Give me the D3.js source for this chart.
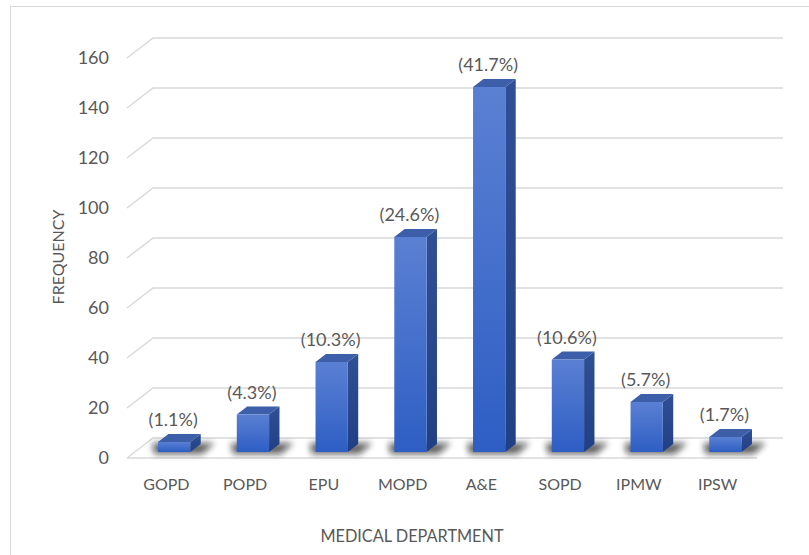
<!DOCTYPE html>
<html>
<head>
<meta charset="utf-8">
<script src="https://cdn.jsdelivr.net/npm/d3@7/dist/d3.min.js"></script>
<style>
  html, body { margin: 0; padding: 0; background: #fff; }
  svg { display: block; }
  text { font-family: Lato, "Open Sans", sans-serif; fill: #595959; }
</style>
</head>
<body>
<svg id="chart" width="809" height="555"></svg>
<script>
const categories = ["GOPD", "POPD", "EPU", "MOPD", "A&E", "SOPD", "IPMW", "IPSW"];
const frequencies = [4, 15, 36, 86, 146, 37, 20, 6];
const percentLabels = ["(1.1%)", "(4.3%)", "(10.3%)", "(24.6%)", "(41.7%)", "(10.6%)", "(5.7%)", "(1.7%)"];
const yTicks = [0, 20, 40, 60, 80, 100, 120, 140, 160];
const xTitle = "MEDICAL DEPARTMENT";
const yTitle = "FREQUENCY";

const svg = d3.select("#chart");

// 3D geometry: front plane and depth offset
const depthDx = 26, depthDy = -20;
const x = d3.scaleBand().domain(categories).range([127, 757]);
const y = d3.scaleLinear().domain([0, 160]).range([458, 58]);

// defs
const defs = svg.append("defs");
const gFront = defs.append("linearGradient").attr("id", "front").attr("x1", 0).attr("y1", 0).attr("x2", 0).attr("y2", 1);
gFront.append("stop").attr("offset", "0%").attr("stop-color", "#5a80d3");
gFront.append("stop").attr("offset", "100%").attr("stop-color", "#2e5ec4");
const gSide = defs.append("linearGradient").attr("id", "side").attr("x1", 0).attr("y1", 0).attr("x2", 0).attr("y2", 1);
gSide.append("stop").attr("offset", "0%").attr("stop-color", "#2f4f96");
gSide.append("stop").attr("offset", "100%").attr("stop-color", "#213f85");
const blur = defs.append("filter").attr("id", "blur").attr("x", "-50%").attr("y", "-100%").attr("width", "200%").attr("height", "300%");
blur.append("feGaussianBlur").attr("stdDeviation", 3);

// outer border
svg.append("rect").attr("x", 10.5).attr("y", 6.5).attr("width", 820).attr("height", 560)
  .attr("fill", "none").attr("stroke", "#d9d9d9").attr("stroke-width", 1);

// gridlines on the back wall with diagonal to front
const x0 = x.range()[0], x1 = x.range()[1];
const grid = svg.append("g");
yTicks.forEach(t => {
  const yf = y(t);
  grid.append("path")
    .attr("d", `M${x0},${yf} L${x0 + depthDx},${yf + depthDy} L${x1 + depthDx},${yf + depthDy}`)
    .attr("fill", "none").attr("stroke", "#d9d9d9").attr("stroke-width", 1.5);
});
// floor front edge
grid.append("line").attr("x1", x0).attr("x2", x1).attr("y1", y(0)).attr("y2", y(0))
  .attr("stroke", "#d9d9d9").attr("stroke-width", 1.5);

// tick labels
svg.append("g").selectAll("text").data(yTicks).join("text")
  .attr("x", 109).attr("y", d => y(d)).attr("dy", "0.35em")
  .attr("text-anchor", "end").attr("font-size", 18).text(d => d);

// bars
const fFront = 0.3, fBack = 0.7;
const barW = x.bandwidth() * 0.41;
const bars = categories.map((c, i) => {
  const fx = x(c) + x.bandwidth() / 2 - barW / 2 + depthDx * fFront;
  const fy0 = y(0) + depthDy * fFront;
  const fyT = y(frequencies[i]) + depthDy * fFront;
  const ddx = depthDx * (fBack - fFront), ddy = depthDy * (fBack - fFront);
  return { c, v: frequencies[i], lab: percentLabels[i], fx, fy0, fyT, ddx, ddy };
});

// shadows
svg.append("g").selectAll("path").data(bars).join("path")
  .attr("d", b => `M${b.fx - 4},${b.fy0 + 2} L${b.fx + barW + 12},${b.fy0 + 2} L${b.fx + barW + b.ddx + 14},${b.fy0 + b.ddy - 1} L${b.fx + b.ddx - 16},${b.fy0 + b.ddy - 1} Z`)
  .attr("fill", "#111").attr("opacity", 0.65).attr("filter", "url(#blur)");

const bg = svg.append("g");
bars.forEach(b => {
  const g = bg.append("g");
  // right side
  g.append("path")
    .attr("d", `M${b.fx + barW},${b.fyT} L${b.fx + barW + b.ddx},${b.fyT + b.ddy} L${b.fx + barW + b.ddx},${b.fy0 + b.ddy} L${b.fx + barW},${b.fy0} Z`)
    .attr("fill", "url(#side)");
  // top
  g.append("path")
    .attr("d", `M${b.fx},${b.fyT} L${b.fx + b.ddx},${b.fyT + b.ddy} L${b.fx + barW + b.ddx},${b.fyT + b.ddy} L${b.fx + barW},${b.fyT} Z`)
    .attr("fill", "#3d5ea9");
  // front
  g.append("rect").attr("x", b.fx).attr("y", b.fyT).attr("width", barW).attr("height", b.fy0 - b.fyT)
    .attr("fill", "url(#front)");
});

// value labels
svg.append("g").selectAll("text").data(bars).join("text")
  .attr("x", b => b.fx + barW / 2 - 1).attr("y", b => b.fyT + b.ddy - 8)
  .attr("text-anchor", "middle").attr("font-size", 18).text(b => b.lab);

// category labels
svg.append("g").selectAll("text").data(categories).join("text")
  .attr("x", d => x(d) + x.bandwidth() / 2).attr("y", 490)
  .attr("text-anchor", "middle").attr("font-size", 16).text(d => d);

// axis titles
svg.append("text").attr("x", 412).attr("y", 542).attr("text-anchor", "middle")
  .attr("font-size", 16.3).text(xTitle);
svg.append("text").attr("transform", "translate(64,257) rotate(-90)").attr("text-anchor", "middle")
  .attr("font-size", 16).text(yTitle);
</script>
</body>
</html>
